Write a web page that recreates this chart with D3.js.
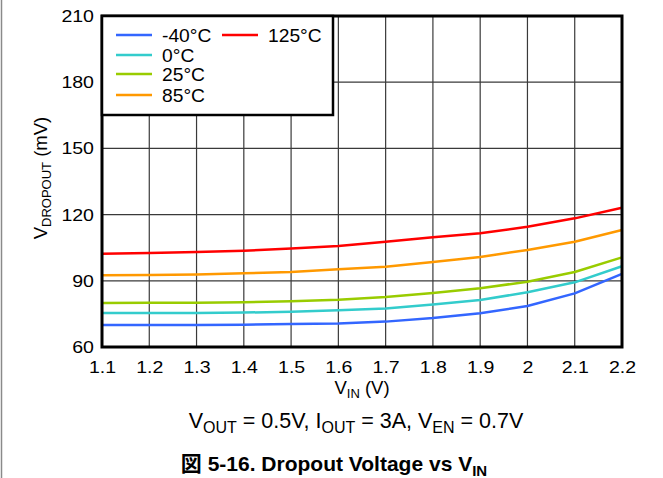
<!DOCTYPE html>
<html>
<head>
<meta charset="utf-8">
<script src="https://cdn.jsdelivr.net/npm/d3@7/dist/d3.min.js"></script>
<style>
  html, body { margin: 0; padding: 0; background: #fff; }
  svg { display: block; }
  svg text { font-family: "Liberation Sans", Arial, sans-serif; fill: #000; }
</style>
</head>
<body>
<svg id="chart" width="663" height="478"></svg>
<script>
// Input voltage sweep (V)
const vin = [1.1, 1.2, 1.3, 1.4, 1.5, 1.6, 1.7, 1.8, 1.9, 2.0, 2.1, 2.2];

// Dropout voltage (mV) per temperature
const dropM40 = [70.0, 70.0, 70.0, 70.1, 70.4, 70.7, 71.5, 73.1, 75.3, 78.6, 84.3, 93.1];
const drop0   = [75.4, 75.4, 75.4, 75.6, 76.0, 76.6, 77.5, 79.3, 81.3, 84.8, 89.3, 96.6];
const drop25  = [79.9, 80.0, 80.1, 80.3, 80.7, 81.4, 82.7, 84.5, 86.6, 89.6, 94.0, 100.6];
const drop85  = [92.5, 92.6, 92.9, 93.4, 94.0, 95.2, 96.4, 98.5, 100.8, 104.0, 107.7, 113.0];
const drop125 = [102.3, 102.6, 103.0, 103.6, 104.6, 105.8, 107.7, 109.7, 111.5, 114.5, 118.3, 123.1];

const seriesNames = ["-40°C", "0°C", "25°C", "85°C", "125°C"];
const seriesColors = ["#3366ff", "#33cccc", "#99cc00", "#ff9900", "#ff0000"];
const seriesData = [dropM40, drop0, drop25, drop85, drop125];

const xTicks = [1.1, 1.2, 1.3, 1.4, 1.5, 1.6, 1.7, 1.8, 1.9, 2.0, 2.1, 2.2];
const yTicks = [60, 90, 120, 150, 180, 210];

const svg = d3.select("#chart");
const L = 102, R = 622, T = 16, B = 347;

const x = d3.scaleLinear().domain([1.1, 2.2]).range([L, R]);
const y = d3.scaleLinear().domain([60, 210]).range([B, T]);

// page edge rule
svg.append("line").attr("x1", 1.5).attr("x2", 1.5).attr("y1", 0).attr("y2", 478)
  .attr("stroke", "#8a8a8a").attr("stroke-width", 1.5);

// grid
const grid = svg.append("g").attr("stroke", "#3a3a3a").attr("stroke-width", 1.2);
xTicks.slice(1, -1).forEach(v => {
  grid.append("line").attr("x1", x(v)).attr("x2", x(v)).attr("y1", T).attr("y2", B);
});
yTicks.slice(1, -1).forEach(v => {
  grid.append("line").attr("x1", L).attr("x2", R).attr("y1", y(v)).attr("y2", y(v));
});

// curves
const line = d3.line().x((d, i) => x(vin[i])).y(d => y(d));
seriesData.forEach((s, k) => {
  svg.append("path").datum(s).attr("d", line)
    .attr("fill", "none").attr("stroke", seriesColors[k]).attr("stroke-width", 2.5)
    .attr("stroke-linejoin", "round");
});

// frame
svg.append("rect").attr("x", L).attr("y", T).attr("width", R - L).attr("height", B - T)
  .attr("fill", "none").attr("stroke", "#000").attr("stroke-width", 3);

// tick labels (slightly wide face)
const tickFont = 17, tickStretch = 1.15;
const xAxis = d3.axisBottom(x).tickValues(xTicks).tickSize(0).tickPadding(14)
  .tickFormat(d => String(+d.toFixed(1)));
const gx = svg.append("g").attr("transform", `translate(0,${B})`).call(xAxis);
gx.select(".domain").remove();
gx.attr("font-family", null).attr("font-size", null);
gx.selectAll("text").attr("font-size", tickFont)
  .attr("transform", `scale(${tickStretch},1)`);

const yAxis = d3.axisLeft(y).tickValues(yTicks).tickSize(0).tickPadding(7);
const gy = svg.append("g").attr("transform", `translate(${L},0)`).call(yAxis);
gy.select(".domain").remove();
gy.attr("font-family", null).attr("font-size", null);
gy.selectAll("text").attr("font-size", tickFont)
  .attr("transform", `scale(${tickStretch},1)`);

// axis titles
const xt = svg.append("text").attr("x", 362).attr("y", 394).attr("text-anchor", "middle")
  .attr("font-size", 18.5);
xt.append("tspan").text("V");
xt.append("tspan").attr("font-size", 13).attr("dy", 4).text("IN");
xt.append("tspan").attr("dy", -4).text(" (V)");

const yt = svg.append("text").attr("transform", "translate(47,178) rotate(-90)")
  .attr("text-anchor", "middle").attr("font-size", 18.5);
yt.append("tspan").text("V");
yt.append("tspan").attr("font-size", 13).attr("dy", 4).text("DROPOUT");
yt.append("tspan").attr("dy", -4).text(" (mV)");

// legend
const lg = svg.append("g");
lg.append("rect").attr("x", 102).attr("y", 16).attr("width", 231).attr("height", 99)
  .attr("fill", "#fff").attr("stroke", "#000").attr("stroke-width", 2.5);
const legPos = [[116, 35], [116, 55], [116, 74], [116, 95], [222, 35]];
seriesNames.forEach((n, k) => {
  const [lx, ly] = legPos[k];
  lg.append("line").attr("x1", lx).attr("x2", lx + 36).attr("y1", ly).attr("y2", ly)
    .attr("stroke", seriesColors[k]).attr("stroke-width", 2.5);
  lg.append("text").attr("transform", `translate(${lx + 46},${ly + 7}) scale(1.1,1)`)
    .attr("font-size", 17.5).text(n);
});

// conditions line
const cond = svg.append("text").attr("x", 356).attr("y", 428).attr("text-anchor", "middle")
  .attr("font-size", 21.5);
cond.append("tspan").text("V");
cond.append("tspan").attr("font-size", 16).attr("dy", 5).text("OUT");
cond.append("tspan").attr("dy", -5).text(" = 0.5V, I");
cond.append("tspan").attr("font-size", 16).attr("dy", 5).text("OUT");
cond.append("tspan").attr("dy", -5).text(" = 3A, V");
cond.append("tspan").attr("font-size", 16).attr("dy", 5).text("EN");
cond.append("tspan").attr("dy", -5).text(" = 0.7V");

// caption
const cap = svg.append("text").attr("x", 334).attr("y", 471).attr("text-anchor", "middle")
  .attr("font-size", 21).attr("font-weight", "bold");
cap.append("tspan").attr("font-family", "Noto Sans CJK JP").text("図");
cap.append("tspan").text(" 5-16. Dropout Voltage vs V");
cap.append("tspan").attr("font-size", 15).attr("dy", 5).text("IN");
</script>
</body>
</html>
